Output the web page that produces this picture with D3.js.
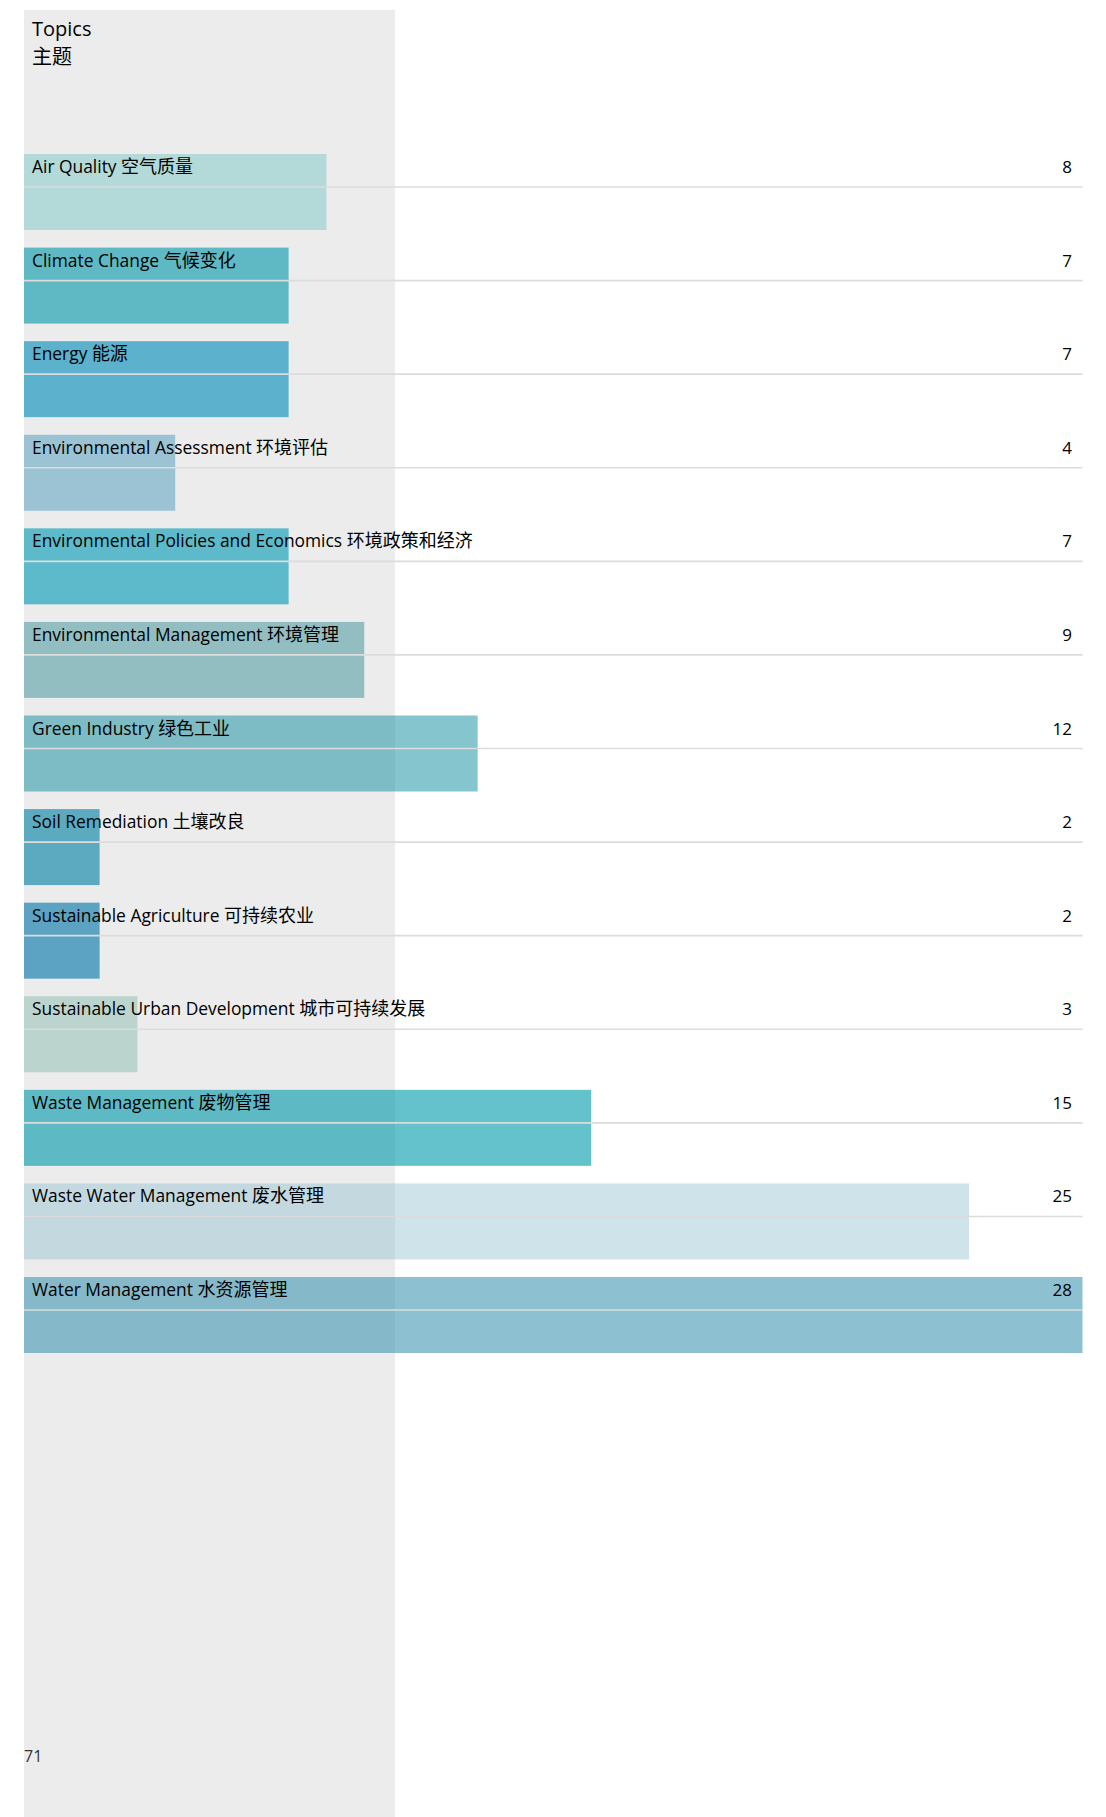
<!DOCTYPE html>
<html>
<head>
<meta charset="utf-8">
<script src="https://cdn.jsdelivr.net/npm/d3@7"></script>
<style>
  body { margin: 0; background: #fff; }
  svg { display: block; }
  text { font-family: "Open Sans", "Noto Sans CJK SC", sans-serif; }
</style>
</head>
<body>
<div id="chart"></div>
<script>
// topics, english + chinese
var topics = ["Air Quality", "Climate Change", "Energy", "Environmental Assessment",
  "Environmental Policies and Economics", "Environmental Management", "Green Industry",
  "Soil Remediation", "Sustainable Agriculture", "Sustainable Urban Development",
  "Waste Management", "Waste Water Management", "Water Management"];
var topicsZh = ["空气质量", "气候变化", "能源", "环境评估", "环境政策和经济", "环境管理",
  "绿色工业", "土壤改良", "可持续农业", "城市可持续发展", "废物管理", "废水管理", "水资源管理"];
var counts = [8, 7, 7, 4, 7, 9, 12, 2, 2, 3, 15, 25, 28];
// colour of each bar where it sits on the grey column
var barColors = ["#b3dad9", "#5fb9c4", "#5cb2cc", "#9bc3d4", "#5dbaca", "#93bec1", "#7dbcc5",
  "#5caac0", "#5ca3c3", "#bcd4ce", "#5db9c3", "#c3d9df", "#85b8c8"];
var title = ["Topics", "主题"];
var pageNumber = "71";

var width = 1106, height = 1817;
var bandRight = 395;

var svg = d3.select("#chart").append("svg")
	.attr("width", width)
	.attr("height", height);

var x = d3.scaleLinear()
	.domain([0, 28])
	.range([24, 1082.5]);

var y = d3.scaleBand()
	.domain(d3.range(topics.length))
	.range([154, 1353])
	.paddingInner(0.188)
	.paddingOuter(0);

// lighter tone of the bar once it leaves the grey column
function outsideColor(c) {
	var col = d3.rgb(c);
	return d3.rgb(Math.min(255, col.r / 0.94), Math.min(255, col.g / 0.955), Math.min(255, col.b / 0.955));
}

// grey column behind the labels
svg.append("rect")
	.attr("x", 24).attr("y", 10)
	.attr("width", bandRight - 24).attr("height", height - 10)
	.style("fill", "#ebeceb");

svg.append("text")
	.attr("x", 32).attr("y", 36)
	.style("font-size", "20px").style("fill", "#000")
	.text(title[0]);
svg.append("text")
	.attr("x", 32).attr("y", 64)
	.style("font-size", "20px").style("fill", "#000")
	.text(title[1]);

var rows = svg.selectAll(".row")
	.data(topics)
	.enter().append("g")
	.attr("class", "row")
	.attr("transform", function(d, i) { return "translate(0," + y(i) + ")"; });

rows.append("rect")
	.attr("x", x(0))
	.attr("y", 0)
	.attr("width", function(d, i) { return Math.min(x(counts[i]), bandRight) - x(0); })
	.attr("height", y.bandwidth())
	.style("fill", function(d, i) { return barColors[i]; });

rows.filter(function(d, i) { return x(counts[i]) > bandRight; })
	.append("rect")
	.attr("x", bandRight)
	.attr("y", 0)
	.attr("width", function(d) { return x(counts[topics.indexOf(d)]) - bandRight; })
	.attr("height", y.bandwidth())
	.style("fill", function(d) { return outsideColor(barColors[topics.indexOf(d)]); });

rows.append("line")
	.attr("x1", x(0)).attr("x2", x(28))
	.attr("y1", 33).attr("y2", 33)
	.style("stroke", "#dcdcdc")
	.style("stroke-width", 1.6);

var labels = rows.append("text")
	.attr("x", 32).attr("y", 19)
	.style("font-size", "17.4px").style("fill", "#000");
labels.append("tspan").text(function(d) { return d + " "; });
labels.append("tspan").style("font-size", "18px").text(function(d, i) { return topicsZh[i]; });

rows.append("text")
	.attr("x", 1072).attr("y", 19)
	.attr("text-anchor", "end")
	.style("font-size", "17px").style("fill", "#000")
	.text(function(d, i) { return counts[i]; });

svg.append("text")
	.attr("x", 24).attr("y", 1762)
	.style("font-size", "16px").style("fill", "#333")
	.text(pageNumber);
</script>
</body>
</html>
